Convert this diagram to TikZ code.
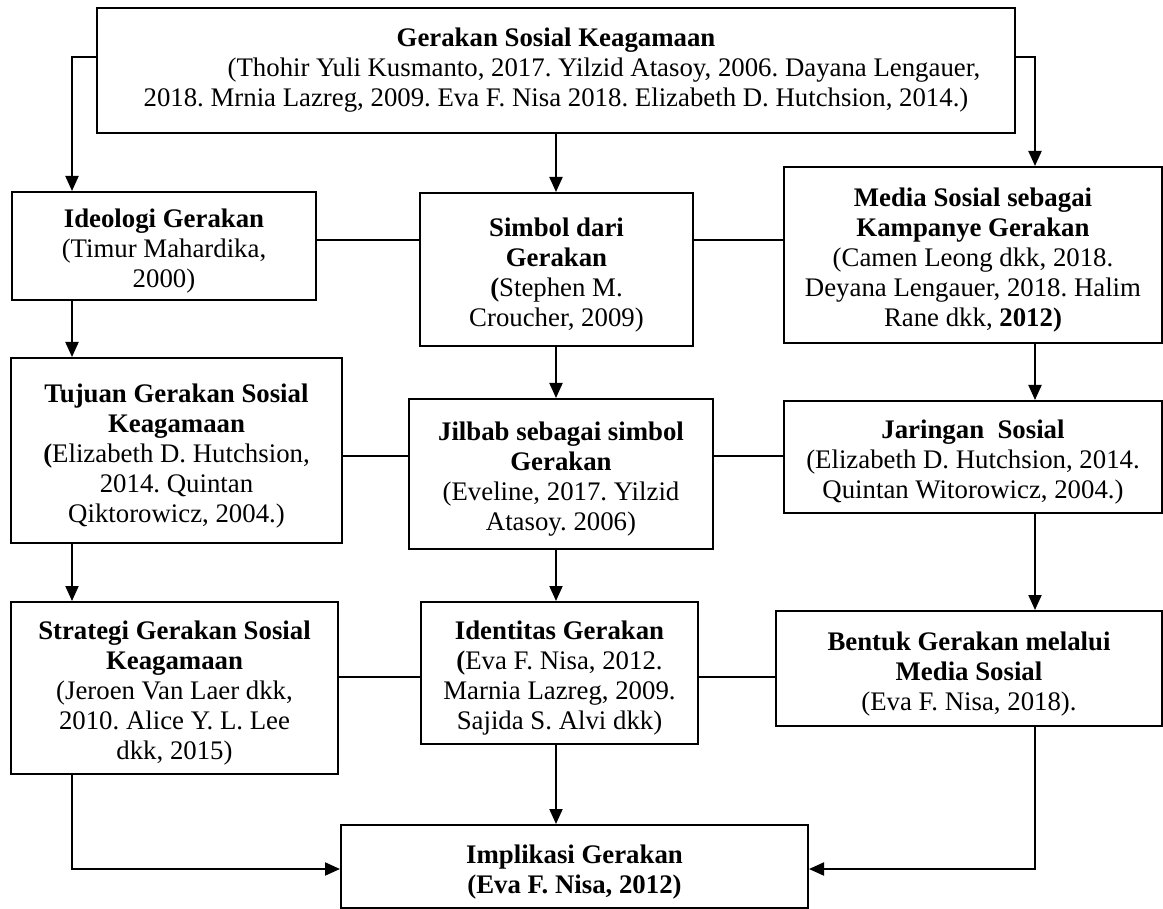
\documentclass[tikz,border=0pt]{standalone}
\usepackage{fontspec}
\setmainfont{Liberation Serif}
\usetikzlibrary{arrows.meta}
\newcommand\mylowstrut{\rule{0pt}{29pt}}
\begin{document}
\frenchspacing
\begin{tikzpicture}[x=1pt,y=-1pt,
  box/.style={draw=black,line width=2pt,fill=white,inner sep=0pt,align=center,
    font=\fontsize{26.8}{30}\selectfont},
  conn/.style={line width=2pt},
  arr/.style={conn,-{Triangle[length=15pt,width=13pt]}}]
\useasboundingbox (0,0) rectangle (1163,909);
\fill[white] (0,0) rectangle (1163,909);
% rows and columns of connectors
\coordinate (rt) at (0,57);
\coordinate (r1) at (0,240);
\coordinate (r2) at (0,456);
\coordinate (r3) at (0,677);
\coordinate (rb) at (0,869);
\coordinate (cl) at (72,0);
\coordinate (cc) at (556,0);
\coordinate (cr) at (1035,0);
% boxes
\node[box,minimum width=918pt,minimum height=125pt] (top) at (556,70.5)
  {\textbf{Gerakan Sosial Keagamaan}\\
   \hspace*{96pt}(Thohir Yuli Kusmanto, 2017. Yilzid Atasoy, 2006. Dayana Lengauer,\\
   2018. Mrnia Lazreg, 2009. Eva F. Nisa 2018. Elizabeth D. Hutchsion, 2014.)};
\node[box,minimum width=304pt,minimum height=108pt] (ideo) at (164,246)
  {\mylowstrut\textbf{Ideologi Gerakan}\\(Timur Mahardika,\\2000)};
\node[box,minimum width=273pt,minimum height=153pt] (simbol) at (556.5,269.5)
  {\mylowstrut\textbf{Simbol dari}\\\textbf{Gerakan}\\\textbf{(}Stephen M.\\Croucher, 2009)};
\node[box,minimum width=378pt,minimum height=176pt] (media) at (973,255)
  {\mylowstrut\textbf{Media Sosial sebagai}\\\textbf{Kampanye Gerakan}\\(Camen Leong dkk, 2018.\\Deyana Lengauer, 2018. Halim\\Rane dkk, \textbf{2012)}};
\node[box,minimum width=331pt,minimum height=185pt] (tujuan) at (176.5,450.5)
  {\mylowstrut\textbf{Tujuan Gerakan Sosial}\\\textbf{Keagamaan}\\\textbf{(}Elizabeth D. Hutchsion,\\2014. Quintan\\Qiktorowicz, 2004.)};
\node[box,minimum width=304pt,minimum height=150pt] (jilbab) at (561,474)
  {\mylowstrut\textbf{Jilbab sebagai simbol}\\\textbf{Gerakan}\\(Eveline, 2017. Yilzid\\Atasoy. 2006)};
\node[box,minimum width=378pt,minimum height=112pt] (jaringan) at (973,457)
  {\mylowstrut\textbf{Jaringan\ \ Sosial}\\(Elizabeth D. Hutchsion, 2014.\\Quintan Witorowicz, 2004.)};
\node[box,minimum width=327pt,minimum height=172pt] (strategi) at (174.5,688)
  {\mylowstrut\textbf{Strategi Gerakan Sosial}\\\textbf{Keagamaan}\\(Jeroen Van Laer dkk,\\2010. Alice Y. L. Lee\\dkk, 2015)};
\node[box,minimum width=277pt,minimum height=142pt] (identitas) at (559.5,673)
  {\mylowstrut\textbf{Identitas Gerakan}\\\textbf{(}Eva F. Nisa, 2012.\\Marnia Lazreg, 2009.\\Sajida S. Alvi dkk)};
\node[box,minimum width=386pt,minimum height=115pt] (bentuk) at (969,668.5)
  {\mylowstrut\textbf{Bentuk Gerakan melalui}\\\textbf{Media Sosial}\\(Eva F. Nisa, 2018).};
\node[box,minimum width=467pt,minimum height=83pt] (implikasi) at (574.5,866.5)
  {\mylowstrut\textbf{Implikasi Gerakan}\\\textbf{(Eva F. Nisa, 2012)}};
% connectors
\draw[arr] (top.west |- rt) -| (cl |- ideo.north);
\draw[arr] (top.east |- rt) -| (cr |- media.north);
\draw[arr] (cc |- top.south) -- (cc |- simbol.north);
\draw[conn] (ideo.east |- r1) -- (simbol.west |- r1);
\draw[conn] (simbol.east |- r1) -- (media.west |- r1);
\draw[arr] (cl |- ideo.south) -- (cl |- tujuan.north);
\draw[arr] (cc |- simbol.south) -- (cc |- jilbab.north);
\draw[arr] (cr |- media.south) -- (cr |- jaringan.north);
\draw[conn] (tujuan.east |- r2) -- (jilbab.west |- r2);
\draw[conn] (jilbab.east |- r2) -- (jaringan.west |- r2);
\draw[arr] (cl |- tujuan.south) -- (cl |- strategi.north);
\draw[arr] (cc |- jilbab.south) -- (cc |- identitas.north);
\draw[arr] (cr |- jaringan.south) -- (cr |- bentuk.north);
\draw[conn] (strategi.east |- r3) -- (identitas.west |- r3);
\draw[conn] (identitas.east |- r3) -- (bentuk.west |- r3);
\draw[arr] (cl |- strategi.south) |- (implikasi.west |- rb);
\draw[arr] (cc |- identitas.south) -- (cc |- implikasi.north);
\draw[arr] (cr |- bentuk.south) |- (implikasi.east |- rb);
\end{tikzpicture}
\end{document}
